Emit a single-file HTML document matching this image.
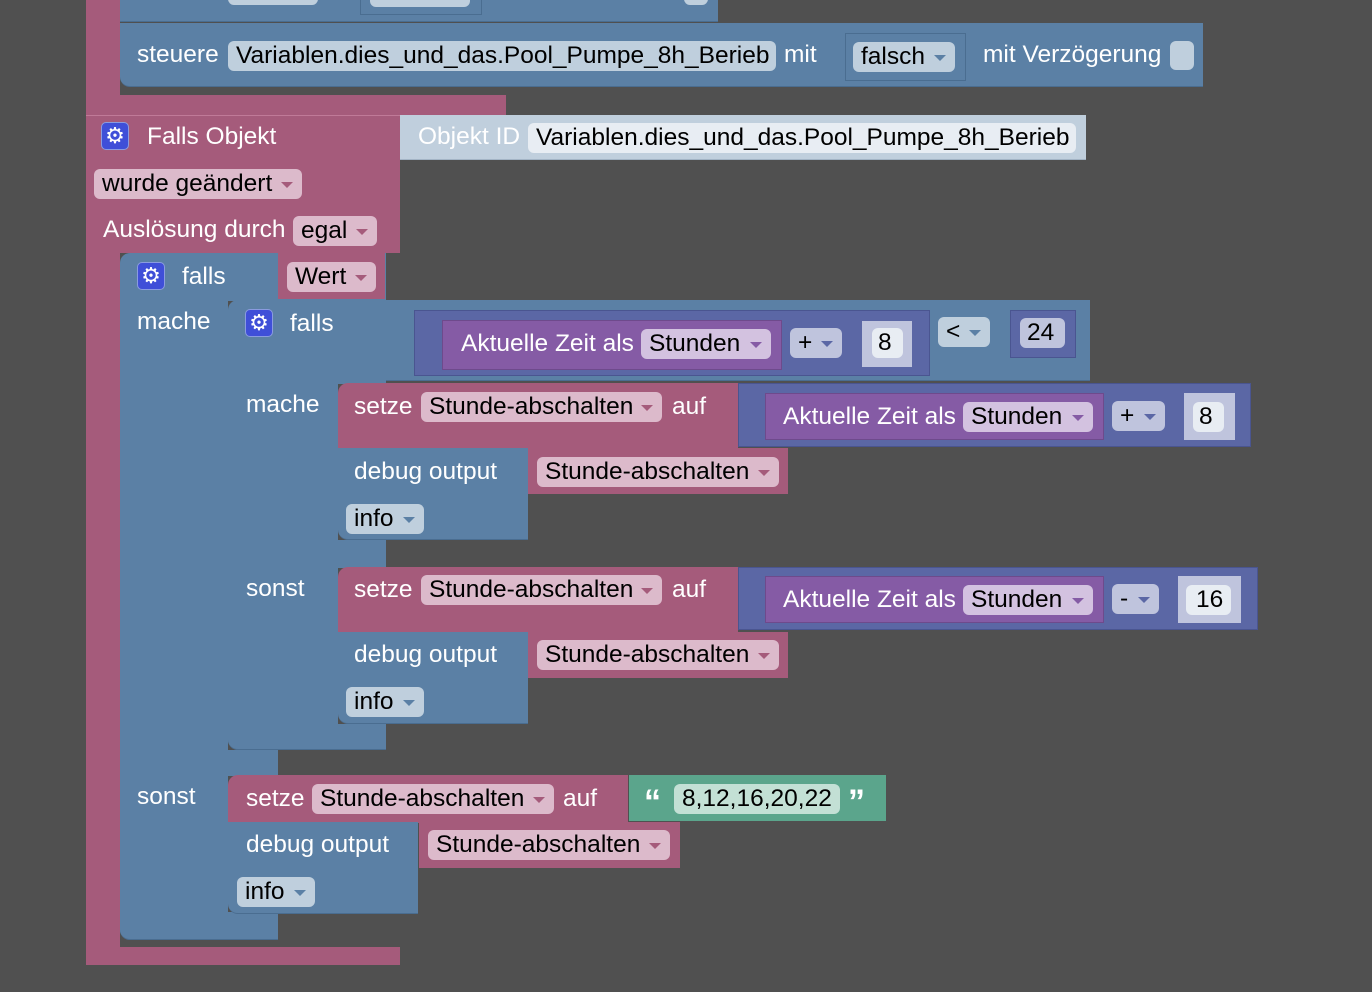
<!DOCTYPE html>
<html><head><meta charset="utf-8"><style>
body{margin:0;width:1372px;height:992px;background:#505050;overflow:hidden;position:relative;font-family:"Liberation Sans",sans-serif}
div,span{position:absolute;box-sizing:border-box}
.pk{background:#a55b7b}
.bl{background:#5b80a5}
.mt{background:#5b67a5;border:1px solid #4a5590}
.tm{background:#855ba5;border:1px solid #6e4a8c}
.gr{background:#5ba58c}
.t{font-size:24.5px;color:#fff;line-height:30px;white-space:nowrap}
.f{height:30px;border-radius:6px;font-size:24.5px;color:#000;line-height:30px;padding-left:8px;white-space:nowrap}
.fp{background:#dcbacb}
.fb{background:#bfcfdd}
.fm{background:#bfc4dd}
.ft{background:#d3c2e0}
.fw{background:#e8edf3}
.dd::after{content:"";position:absolute;right:9px;top:13px;border-left:6px solid transparent;border-right:6px solid transparent;border-top:6px solid currentColor;opacity:.55}
.fp.dd::after{color:#a55b7b;opacity:1}
.fb.dd::after{color:#5b80a5;opacity:1}
.fm.dd::after{color:#5b67a5;opacity:1}
.ft.dd::after{color:#855ba5;opacity:1}
.g{width:28px;height:28px;background:#3f4fd8;border:1px solid #8a9be0;border-radius:5px;color:#fff;font-size:22px;line-height:26px;text-align:center}
.q{font-size:34px;font-weight:bold;color:#fff;line-height:30px}
</style></head><body>

<div class="pk" style="left:86px;top:0;width:34px;height:965px"></div>
<div class="pk" style="left:86px;top:95px;width:420px;height:20px"></div>
<div class="pk" style="left:86px;top:947px;width:314px;height:18px"></div>

<div class="bl" style="left:120px;top:0;width:598px;height:22px;border-bottom:1px solid #4a6d90"></div>
<div class="fb" style="left:228px;top:-20px;width:90px;height:25px;border-radius:6px"></div>
<div style="left:360px;top:-10px;width:122px;height:25px;border:1px solid #4a6d90"></div>
<div class="fb" style="left:370px;top:-20px;width:100px;height:27px;border-radius:6px"></div>
<div class="fb" style="left:684px;top:-20px;width:24px;height:25px;border-radius:6px"></div>

<div class="bl" style="left:120px;top:23px;width:1083px;height:64px;border-bottom-left-radius:10px;border-bottom:1px solid #4a6d90"></div>
<span class="t" style="left:137px;top:40px">steuere</span>
<div class="f fb" style="left:228px;top:41px;width:548px">Variablen.dies_und_das.Pool_Pumpe_8h_Berieb</div>
<span class="t" style="left:784px;top:40px">mit</span>
<div style="left:845px;top:33px;width:121px;height:48px;border:1px solid #4a6d90"></div>
<div class="f fb dd" style="left:853px;top:42px;width:102px">falsch</div>
<span class="t" style="left:983px;top:40px">mit Verzögerung</span>
<div class="fb" style="left:1170px;top:41px;width:24px;height:29px;border-radius:6px"></div>

<div class="pk" style="left:86px;top:115px;width:314px;height:138px;border-top:1px solid #c07a98"></div>
<div class="g" style="left:101px;top:122px">⚙</div>
<span class="t" style="left:147px;top:122px">Falls Objekt</span>
<div style="left:400px;top:115px;width:686px;height:45px;background:#c0cfdd;border-bottom:1px solid #a3b4c5"></div>
<span class="t" style="left:418px;top:122px">Objekt ID</span>
<div class="f fw" style="left:528px;top:123px;width:548px">Variablen.dies_und_das.Pool_Pumpe_8h_Berieb</div>
<div class="f fp dd" style="left:94px;top:169px;width:208px">wurde geändert</div>
<span class="t" style="left:103px;top:215px">Auslösung durch</span>
<div class="f fp dd" style="left:293px;top:216px;width:84px">egal</div>

<div class="bl" style="left:120px;top:253px;width:266px;height:48px;border-top-left-radius:10px"></div>
<div class="bl" style="left:120px;top:300px;width:108px;height:640px;border-bottom-left-radius:10px;border-bottom:1px solid #4a6d90"></div>
<div class="bl" style="left:120px;top:912px;width:158px;height:28px;border-bottom:1px solid #4a6d90;border-bottom-left-radius:10px"></div>
<div class="bl" style="left:228px;top:750px;width:50px;height:26px"></div>
<div class="g" style="left:137px;top:262px">⚙</div>
<span class="t" style="left:182px;top:262px">falls</span>
<div class="pk" style="left:278px;top:253px;width:107px;height:46px"></div>
<div class="f fp dd" style="left:287px;top:262px;width:89px">Wert</div>
<span class="t" style="left:137px;top:307px">mache</span>
<span class="t" style="left:137px;top:782px">sonst</span>

<div class="bl" style="left:228px;top:300px;width:158px;height:84px;border-top-left-radius:10px"></div>
<div class="bl" style="left:228px;top:383px;width:110px;height:367px;border-bottom-left-radius:10px;border-bottom:1px solid #4a6d90"></div>
<div class="bl" style="left:228px;top:724px;width:158px;height:26px;border-bottom:1px solid #4a6d90;border-bottom-left-radius:10px"></div>
<div class="bl" style="left:338px;top:540px;width:48px;height:28px"></div>
<div class="g" style="left:245px;top:309px">⚙</div>
<span class="t" style="left:290px;top:309px">falls</span>
<span class="t" style="left:246px;top:390px">mache</span>
<span class="t" style="left:246px;top:574px">sonst</span>

<div class="bl" style="left:386px;top:300px;width:704px;height:81px;border-bottom:1px solid #4a6d90"></div>
<div class="mt" style="left:414px;top:310px;width:516px;height:66px"></div>
<div class="tm" style="left:442px;top:320px;width:340px;height:50px"></div>
<span class="t" style="left:461px;top:329px">Aktuelle Zeit als</span>
<div class="f ft dd" style="left:641px;top:329px;width:130px">Stunden</div>
<div class="f fm dd" style="left:790px;top:328px;width:52px">+</div>
<div class="fm" style="left:862px;top:321px;width:50px;height:46px"></div>
<div class="f fw" style="left:872px;top:328px;width:31px;padding-left:6px">8</div>
<div class="f fb dd" style="left:938px;top:317px;width:52px">&lt;</div>
<div class="mt" style="left:1010px;top:310px;width:66px;height:48px"></div>
<div class="f fm" style="left:1020px;top:318px;width:45px;padding-left:7px">24</div>

<div class="pk" style="left:338px;top:383px;width:400px;height:65px;border-top-left-radius:10px"></div>
<span class="t" style="left:354px;top:392px">setze</span>
<div class="f fp dd" style="left:421px;top:392px;width:241px">Stunde-abschalten</div>
<span class="t" style="left:672px;top:392px">auf</span>
<div class="mt" style="left:738px;top:383px;width:513px;height:64px"></div>
<div class="tm" style="left:765px;top:393px;width:339px;height:47px"></div>
<span class="t" style="left:783px;top:402px">Aktuelle Zeit als</span>
<div class="f ft dd" style="left:963px;top:402px;width:130px">Stunden</div>
<div class="f fm dd" style="left:1112px;top:401px;width:53px">+</div>
<div class="fm" style="left:1184px;top:393px;width:51px;height:47px"></div>
<div class="f fw" style="left:1193px;top:402px;width:31px;padding-left:6px">8</div>

<div class="bl" style="left:338px;top:448px;width:190px;height:92px;border-bottom-left-radius:10px;border-bottom:1px solid #4a6d90"></div>
<span class="t" style="left:354px;top:457px">debug output</span>
<div class="pk" style="left:528px;top:448px;width:260px;height:46px"></div>
<div class="f fp dd" style="left:537px;top:457px;width:242px">Stunde-abschalten</div>
<div class="f fb dd" style="left:346px;top:504px;width:78px">info</div>

<div class="pk" style="left:338px;top:567px;width:400px;height:65px;border-top-left-radius:10px"></div>
<span class="t" style="left:354px;top:575px">setze</span>
<div class="f fp dd" style="left:421px;top:575px;width:241px">Stunde-abschalten</div>
<span class="t" style="left:672px;top:575px">auf</span>
<div class="mt" style="left:738px;top:567px;width:520px;height:63px"></div>
<div class="tm" style="left:765px;top:576px;width:339px;height:47px"></div>
<span class="t" style="left:783px;top:585px">Aktuelle Zeit als</span>
<div class="f ft dd" style="left:963px;top:585px;width:130px">Stunden</div>
<div class="f fm dd" style="left:1112px;top:584px;width:47px">-</div>
<div class="fm" style="left:1178px;top:576px;width:63px;height:47px"></div>
<div class="f fw" style="left:1186px;top:585px;width:45px;padding-left:10px">16</div>

<div class="bl" style="left:338px;top:632px;width:190px;height:92px;border-bottom-left-radius:10px;border-bottom:1px solid #4a6d90"></div>
<span class="t" style="left:354px;top:640px">debug output</span>
<div class="pk" style="left:528px;top:632px;width:260px;height:46px"></div>
<div class="f fp dd" style="left:537px;top:640px;width:242px">Stunde-abschalten</div>
<div class="f fb dd" style="left:346px;top:687px;width:78px">info</div>

<div class="pk" style="left:228px;top:775px;width:400px;height:48px;border-top-left-radius:10px"></div>
<span class="t" style="left:246px;top:784px">setze</span>
<div class="f fp dd" style="left:312px;top:784px;width:242px">Stunde-abschalten</div>
<span class="t" style="left:563px;top:784px">auf</span>
<div class="gr" style="left:629px;top:775px;width:257px;height:46px"></div>
<span class="q" style="left:644px;top:787px">“</span>
<div class="f" style="left:674px;top:784px;width:166px;background:#c3e0d5">8,12,16,20,22</div>
<span class="q" style="left:848px;top:787px">”</span>

<div class="bl" style="left:228px;top:822px;width:190px;height:92px;border-bottom-left-radius:10px;border-bottom:1px solid #4a6d90"></div>
<span class="t" style="left:246px;top:830px">debug output</span>
<div class="pk" style="left:419px;top:822px;width:261px;height:46px"></div>
<div class="f fp dd" style="left:428px;top:830px;width:242px">Stunde-abschalten</div>
<div class="f fb dd" style="left:237px;top:877px;width:78px">info</div>

</body></html>
